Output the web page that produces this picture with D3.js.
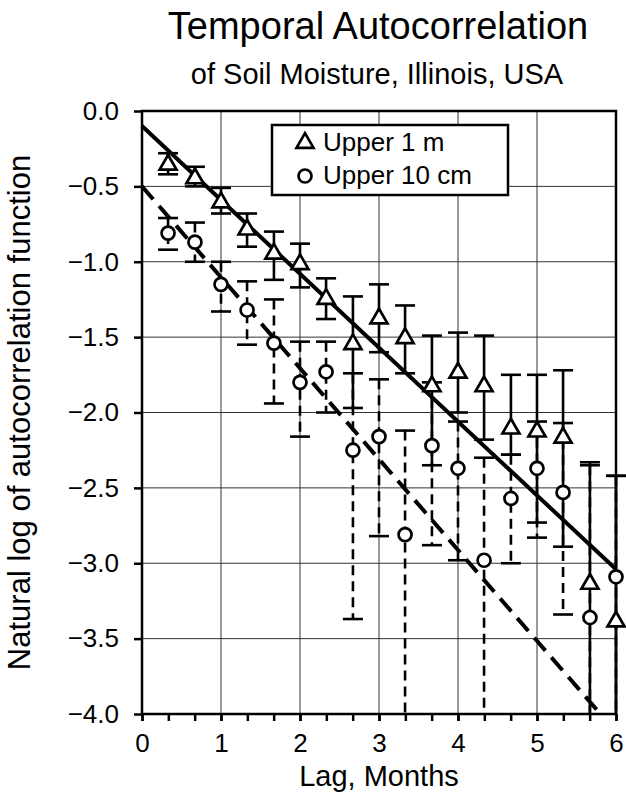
<!DOCTYPE html>
<html>
<head>
<meta charset="utf-8">
<script src="https://cdn.jsdelivr.net/npm/d3@7"></script>
<style>
  body { margin: 0; background: #fff; }
  text { font-family: "Liberation Sans", Arial, Helvetica, sans-serif; fill: #000; }
</style>
</head>
<body>
<script>
// Lag in months (every 10 days = 1/3 month)
var lags = [0.33, 0.67, 1.0, 1.33, 1.67, 2.0, 2.33, 2.67, 3.0, 3.33, 3.67, 4.0, 4.33, 4.67, 5.0, 5.33, 5.67, 6.0];

// Upper 1 m: ln(autocorrelation) with error bar ends
var upper1m     = [-0.35, -0.44, -0.60, -0.78, -0.94, -1.01, -1.24, -1.54, -1.37, -1.50, -1.82, -1.73, -1.82, -2.10, -2.12, -2.16, -3.13, -3.38];
var upper1mHigh = [-0.28, -0.37, -0.51, -0.68, -0.80, -0.88, -1.11, -1.23, -1.15, -1.29, -1.49, -1.47, -1.49, -1.75, -1.75, -1.72, -2.33, -2.42];
var upper1mLow  = [-0.42, -0.50, -0.68, -0.90, -1.12, -1.17, -1.38, -1.97, -1.60, -1.74, -2.35, -2.00, -2.18, -2.28, -2.73, -2.89, -4.5, -4.5];

// Upper 10 cm
var upper10cm     = [-0.81, -0.87, -1.15, -1.32, -1.54, -1.80, -1.73, -2.25, -2.16, -2.81, -2.22, -2.37, -2.98, -2.57, -2.37, -2.53, -3.36, -3.09];
var upper10cmHigh = [-0.71, -0.74, -1.00, -1.13, -1.25, -1.53, -1.53, -1.74, -1.78, -2.12, -1.80, -2.06, -2.30, -2.28, -2.06, -2.07, -2.35, -2.42];
var upper10cmLow  = [-0.92, -1.00, -1.33, -1.55, -1.94, -2.16, -2.00, -3.37, -2.82, -4.5, -2.88, -2.98, -4.5, -3.00, -2.83, -3.34, -4.5, -4.5];

// Fitted lines [intercept, slope]
var fit1m = [-0.10, -0.49];
var fit10cm = [-0.50, -0.603];

var xTicks = [0, 1, 2, 3, 4, 5, 6];
var yTicks = [0, -0.5, -1, -1.5, -2, -2.5, -3, -3.5, -4];
var legendLabels = ["Upper 1 m", "Upper 10 cm"];

var width = 626, height = 800;
var margin = {left: 142, right: 10, top: 111, bottom: 86};

var svg = d3.select("body").append("svg")
    .attr("width", width)
    .attr("height", height);

var x = d3.scaleLinear().domain([0, 6]).range([margin.left, width - margin.right]);
var y = d3.scaleLinear().domain([-4, 0]).range([height - margin.bottom, margin.top]);

// clip bars and lines at the top and bottom of the frame
svg.append("clipPath").attr("id", "plotclip")
  .append("rect")
    .attr("x", x(0) - 20).attr("y", y(0))
    .attr("width", x(6) - x(0) + 40).attr("height", y(-4) - y(0));

// grid
svg.append("g").selectAll("line").data(xTicks.slice(1, -1)).enter().append("line")
    .attr("x1", d => x(d)).attr("x2", d => x(d))
    .attr("y1", y(0)).attr("y2", y(-4))
    .attr("stroke", "#333").attr("stroke-width", 1);
svg.append("g").selectAll("line").data(yTicks.slice(1, -1)).enter().append("line")
    .attr("x1", x(0)).attr("x2", x(6))
    .attr("y1", d => y(d)).attr("y2", d => y(d))
    .attr("stroke", "#333").attr("stroke-width", 1);

// axes
var xAxis = svg.append("g")
    .attr("transform", "translate(0," + y(-4) + ")")
    .call(d3.axisBottom(x).tickValues(d3.range(0, 19).map(d => d / 3)).tickSize(7).tickFormat(""));
var xLabels = svg.append("g")
    .attr("transform", "translate(0," + y(-4) + ")")
    .call(d3.axisBottom(x).tickValues(xTicks).tickSize(7).tickPadding(10).tickFormat(d3.format("d")));
var yAxis = svg.append("g")
    .attr("transform", "translate(" + x(0) + ",0)")
    .call(d3.axisLeft(y).tickValues(yTicks).tickSize(8).tickPadding(15).tickFormat(d3.format(".1f")));

[xAxis, xLabels, yAxis].forEach(function(g) {
  g.select(".domain").remove();
  g.selectAll(".tick line").attr("stroke", "#000").attr("stroke-width", 2.5);
  g.selectAll("text").style("font-size", "26px").attr("fill", "#000");
});
xLabels.selectAll("text").attr("dy", "0.8em");

// frame
svg.append("rect")
    .attr("x", x(0)).attr("y", y(0))
    .attr("width", x(6) - x(0)).attr("height", y(-4) - y(0))
    .attr("fill", "none").attr("stroke", "#000").attr("stroke-width", 2.5);

var plot = svg.append("g").attr("clip-path", "url(#plotclip)");
var capW = 10;

function errorBars(vals, hi, lo, dash) {
  var g = plot.append("g")
      .attr("stroke", "#000").attr("stroke-width", 2.6).attr("fill", "none");
  g.selectAll("line.bar").data(lags).enter().append("line")
      .attr("x1", d => x(d)).attr("x2", d => x(d))
      .attr("y1", (d, i) => y(hi[i])).attr("y2", (d, i) => y(lo[i]))
      .attr("stroke-dasharray", dash);
  g.selectAll("line.hi").data(lags).enter().append("line")
      .attr("x1", d => x(d) - capW).attr("x2", d => x(d) + capW)
      .attr("y1", (d, i) => y(hi[i])).attr("y2", (d, i) => y(hi[i]));
  g.selectAll("line.lo").data(lags).enter().append("line")
      .attr("x1", d => x(d) - capW).attr("x2", d => x(d) + capW)
      .attr("y1", (d, i) => y(lo[i])).attr("y2", (d, i) => y(lo[i]));
}

errorBars(upper10cm, upper10cmHigh, upper10cmLow, "10,6");
errorBars(upper1m, upper1mHigh, upper1mLow, null);

var tri = d3.symbol().type(d3.symbolTriangle).size(125);

// markers (not clipped, they sit over the frame at lag 6)
svg.append("g").selectAll("circle").data(lags).enter().append("circle")
    .attr("cx", d => x(d)).attr("cy", (d, i) => y(upper10cm[i]))
    .attr("r", 6.5)
    .attr("fill", "#fff").attr("stroke", "#000").attr("stroke-width", 2.7);
svg.append("g").selectAll("path").data(lags).enter().append("path")
    .attr("d", tri)
    .attr("transform", (d, i) => "translate(" + x(d) + "," + (y(upper1m[i]) + 1) + ")")
    .attr("fill", "#fff").attr("stroke", "#000").attr("stroke-width", 2.7);

// fitted lines
var line = d3.line().x(d => x(d[0])).y(d => y(d[1]));
plot.append("path")
    .attr("d", line([[0, fit1m[0]], [6, fit1m[0] + 6 * fit1m[1]]]))
    .attr("stroke", "#000").attr("stroke-width", 4).attr("fill", "none");
plot.append("path")
    .attr("d", line([[0, fit10cm[0]], [6, fit10cm[0] + 6 * fit10cm[1]]]))
    .attr("stroke", "#000").attr("stroke-width", 4).attr("fill", "none")
    .attr("stroke-dasharray", "17,9");

// legend
var lg = svg.append("g");
lg.append("rect")
    .attr("x", 272).attr("y", 125).attr("width", 236).attr("height", 70)
    .attr("fill", "#fff").attr("stroke", "#000").attr("stroke-width", 2.5);
lg.append("path").attr("d", tri).attr("transform", "translate(305,143)")
    .attr("fill", "#fff").attr("stroke", "#000").attr("stroke-width", 2.7);
lg.append("circle").attr("cx", 305).attr("cy", 176).attr("r", 6.5)
    .attr("fill", "#fff").attr("stroke", "#000").attr("stroke-width", 2.7);
lg.selectAll("text").data(legendLabels).enter().append("text")
    .attr("x", 323).attr("y", (d, i) => 151 + i * 33)
    .style("font-size", "26px")
    .text(d => d);

// titles
svg.append("text")
    .attr("x", 378).attr("y", 39).attr("text-anchor", "middle")
    .style("font-size", "38px")
    .text("Temporal Autocorrelation");
svg.append("text")
    .attr("x", 377).attr("y", 84).attr("text-anchor", "middle")
    .style("font-size", "29px")
    .text("of Soil Moisture, Illinois, USA");
svg.append("text")
    .attr("x", x(3)).attr("y", 786).attr("text-anchor", "middle")
    .style("font-size", "29px")
    .text("Lag, Months");
svg.append("text")
    .attr("transform", "translate(30," + y(-2) + ") rotate(-90)")
    .attr("text-anchor", "middle")
    .style("font-size", "31px")
    .text("Natural log of autocorrelation function");
</script>
</body>
</html>
